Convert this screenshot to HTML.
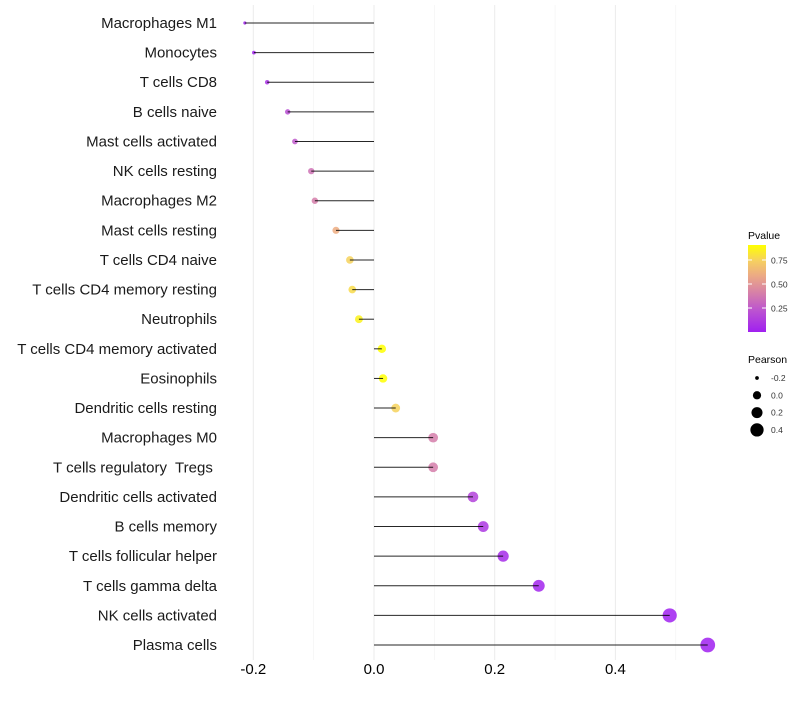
<!DOCTYPE html>
<html><head><meta charset="utf-8"><style>body{margin:0;background:#fff}svg{font-family:"Liberation Sans",sans-serif}text{white-space:pre}</style></head>
<body>
<svg id="chart" width="800" height="700"></svg>
<script>
const categories=["Macrophages M1","Monocytes","T cells CD8","B cells naive","Mast cells activated","NK cells resting","Macrophages M2","Mast cells resting","T cells CD4 naive","T cells CD4 memory resting","Neutrophils","T cells CD4 memory activated","Eosinophils","Dendritic cells resting","Macrophages M0","T cells regulatory  Tregs ","Dendritic cells activated","B cells memory","T cells follicular helper","T cells gamma delta","NK cells activated","Plasma cells"];
const pearson=[-0.214,-0.199,-0.177,-0.143,-0.131,-0.104,-0.098,-0.063,-0.040,-0.036,-0.025,0.013,0.015,0.036,0.098,0.098,0.164,0.181,0.214,0.273,0.490,0.553];
const pvalue=[0.01,0.02,0.08,0.2,0.25,0.35,0.4,0.6,0.75,0.78,0.86,0.93,0.92,0.75,0.4,0.4,0.15,0.1,0.05,0.02,0.003,0.001];
const xTicks=[-0.2,0.0,0.2,0.4];
const xMinor=[-0.1,0.1,0.3,0.5];
const pTicks=[0.25,0.5,0.75];
const sizeTicks=[-0.2,0.0,0.2,0.4];
const NS="http://www.w3.org/2000/svg";
const svg=document.getElementById('chart');
function el(t,a,p){const e=document.createElementNS(NS,t);for(const k in a)e.setAttribute(k,a[k]);(p||svg).appendChild(e);return e;}
const x=v=>374+v*603.5;
const y=i=>23+i*29.62;
const vmin=-0.214,vmax=0.553;
const r=v=>Math.sqrt(2.5+52*Math.max(0,(v-vmin)/(vmax-vmin)));
const ramp=[[0,[160,32,240]],[0.25,[188,84,208]],[0.45,[214,128,168]],[0.65,[236,170,132]],[0.82,[246,208,96]],[1,[255,255,0]]];
function col(p){const t=Math.min(1,Math.max(0,p/0.906));let k=0;while(k<ramp.length-2&&t>ramp[k+1][0])k++;
const [t0,a]=ramp[k],[t1,b]=ramp[k+1];const f=(t-t0)/(t1-t0);return `rgb(${a.map((c,i)=>Math.round(c+(b[i]-c)*f)).join(',')})`;}
xMinor.forEach(v=>{const g=el('line',{x1:x(v),x2:x(v),y1:5,y2:660,stroke:'#f2f2f2','stroke-width':0.6});

});
xTicks.forEach(v=>{const g=el('line',{x1:x(v),x2:x(v),y1:5,y2:660,stroke:'#ebebeb','stroke-width':1});


const t=el('text',{x:x(v),y:674,'text-anchor':'middle','font-size':15,fill:'#000'});t.textContent=v.toFixed(1);

});
categories.forEach((c,i)=>{
const t=el('text',{x:217,y:y(i)+5,'text-anchor':'end','font-size':15,fill:'#1a1a1a'});t.textContent=c;


const d=el('circle',{cx:x(pearson[i]),cy:y(i),r:r(pearson[i]),fill:col(pvalue[i]),'fill-opacity':0.85});


const l=el('line',{x1:x(0),x2:x(pearson[i]),y1:y(i),y2:y(i),stroke:'#000','stroke-width':1,'stroke-opacity':0.85});


});
const defs=el('defs',{});const lg=el('linearGradient',{id:'pg',x1:0,y1:1,x2:0,y2:0},defs);
ramp.forEach(s=>el('stop',{offset:s[0],'stop-color':col(s[0]*0.906)},lg));
const lt=el('text',{x:748,y:239,'font-size':10.5,fill:'#000'});lt.textContent='Pvalue';


const cb=el('rect',{x:748,y:245,width:18,height:87,fill:'url(#pg)'});


const py=p=>332-p/0.906*87;
pTicks.forEach(p=>{const t=el('text',{x:771,y:py(p)+3.5,'font-size':8.5,fill:'#333'});t.textContent=p.toFixed(2);


el('line',{x1:748,x2:752,y1:py(p),y2:py(p),stroke:'#fff'});el('line',{x1:762,x2:766,y1:py(p),y2:py(p),stroke:'#fff'});});
const st=el('text',{x:748,y:363,'font-size':10.5,fill:'#000'});st.textContent='Pearson';


sizeTicks.forEach((v,i)=>{const yy=378+i*17.3;
const c=el('circle',{cx:757,cy:yy,r:r(v),fill:'#000'});


const t=el('text',{x:771,y:yy+3,'font-size':8.5,fill:'#333'});t.textContent=v.toFixed(1);

});
</script>
</body></html>
